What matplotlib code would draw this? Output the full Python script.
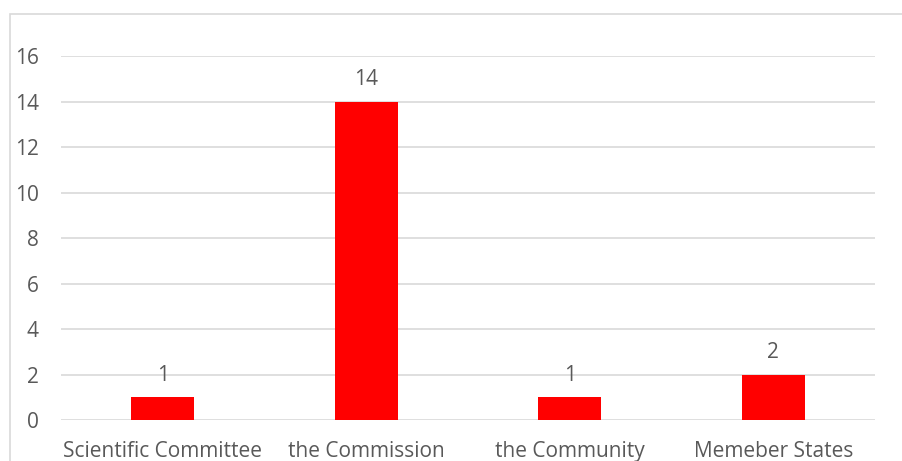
import matplotlib.pyplot as plt
from matplotlib.patches import Rectangle

categories = ["Scientific Committee", "the Commission", "the Community", "Memeber States"]
values = [1, 14, 1, 2]
yticks = [0, 2, 4, 6, 8, 10, 12, 14, 16]

plt.rcParams['font.family'] = ['Open Sans', 'DejaVu Sans']
txt = '#595959'

fig = plt.figure(figsize=(9.03, 4.61), dpi=100)
W, H = 903, 461
ax = fig.add_axes([61 / W, 41 / H, (875 - 61) / W, (420 - 56) / H])

x = range(len(categories))
bars = ax.bar(x, values, width=0.31, color='#ff0000', zorder=3)
for b, v in zip(bars, values):
    ax.annotate(str(v), (b.get_x() + b.get_width() / 2, v), xytext=(0, 8),
                textcoords='offset points', ha='center', va='bottom',
                fontsize=15, color=txt)

ax.set_xlim(-0.5, len(categories) - 0.5)
ax.set_ylim(0, 16)
ax.set_yticks(yticks)
ax.set_xticks(list(x))
ax.set_xticklabels(categories)
ax.yaxis.grid(True, color='#d9d9d9', linewidth=1.2, zorder=0)
ax.tick_params(axis='both', length=0, labelsize=15, colors=txt)
ax.tick_params(axis='y', pad=16)
ax.tick_params(axis='x', pad=15)
for s in ax.spines.values():
    s.set_visible(False)

# chart border, cut by the image edges on the right and bottom
fig.patches.append(Rectangle((10 / W, -0.1), 1.1, (461 - 14) / H + 0.1,
                             transform=fig.transFigure, fill=False,
                             edgecolor='#d9d9d9', linewidth=1.2))

fig.savefig('out.png', dpi=100)
